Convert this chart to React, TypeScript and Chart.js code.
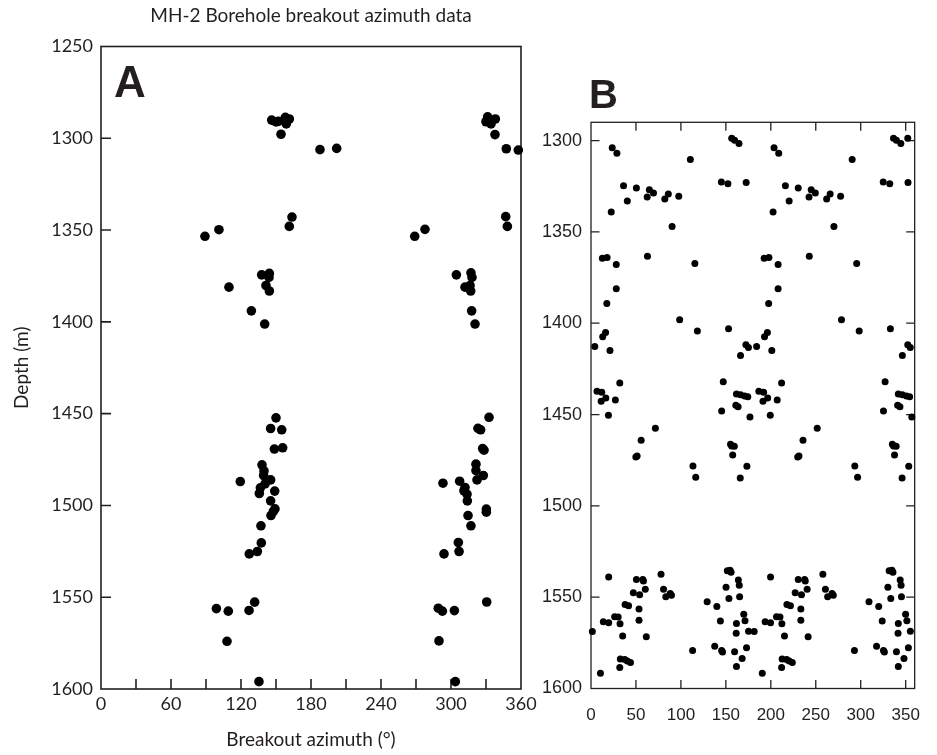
import React, { useEffect, useRef } from 'react';
import { Chart, registerables } from 'chart.js';

Chart.register(...registerables);

// ---------------- Panel A data (breakout azimuth °, depth m) ----------------
const aSet1Azimuth = [146.3, 150, 152, 158, 161.4, 158.8, 154.3, 187.7, 202, 163.7, 161.4, 101.1, 89.1, 137.7, 144.3, 144, 109.7, 141.4, 144.3, 128.9, 140.3, 150, 145.4, 154.9, 148.6, 155.7, 138, 139.7, 139.4, 119.4, 145.4, 140.6, 136.6, 135.7, 148.9, 145.4, 149.1, 147.7, 145.7, 137.1, 137.4, 134, 127.1, 131.7, 98.9, 109.1, 126.9, 108, 135.4];
const aSet1Depth = [1290.1, 1291.1, 1290.8, 1288.6, 1289.5, 1292.2, 1297.8, 1306.2, 1305.5, 1342.9, 1348, 1349.8, 1353.4, 1374.4, 1373.6, 1375.8, 1381.1, 1380.2, 1383.2, 1394, 1401.2, 1452.3, 1458.1, 1458.8, 1469.3, 1468.6, 1477.9, 1481.2, 1483.7, 1487, 1486.1, 1488.3, 1490.4, 1493.5, 1492.2, 1497.5, 1501.9, 1503.3, 1505.5, 1511.1, 1520.4, 1525.1, 1526.4, 1552.7, 1556.2, 1557.6, 1557.2, 1574, 1596];
const aSet2Azimuth = [331.4, 338, 330, 334.3, 332.9, 337.7, 347.4, 357.7, 346.9, 348.3, 277.7, 268.9, 304.6, 317.1, 318, 312, 316.3, 316.9, 317.7, 320.6, 332.6, 323.1, 325.4, 327.1, 328.3, 321.4, 321.4, 322.3, 327.7, 293.1, 307.4, 312, 311.1, 313.7, 314, 330.3, 330.3, 314.6, 317.1, 306.3, 306.9, 294, 330.6, 289.1, 292.6, 302.9, 289.7, 303.7];
const aSet2Depth = [1288.3, 1289.5, 1291, 1292.2, 1290.4, 1298, 1305.7, 1306.4, 1342.7, 1348, 1349.6, 1353.4, 1374.4, 1373.3, 1375.8, 1381.1, 1380.2, 1383.2, 1394, 1401.2, 1452, 1458, 1458.8, 1469, 1469.9, 1477.5, 1481, 1486.1, 1483.7, 1487.9, 1486.8, 1490.2, 1492, 1493.9, 1497.5, 1502, 1503.7, 1505.5, 1511.1, 1520.2, 1525.1, 1526.4, 1552.6, 1556, 1557.6, 1557.3, 1573.8, 1596];

const aAzimuthTicks = [0, 30, 60, 90, 120, 150, 180, 210, 240, 270, 300, 330, 360];
const aAzimuthLabels = ['0', '', '60', '', '120', '', '180', '', '240', '', '300', '', '360'];
const aDepthTicks = [1250, 1300, 1350, 1400, 1450, 1500, 1550, 1600];

// ---------------- Panel B data ----------------
const bSet1Azimuth = [23.6, 28.8, 156.5, 159.7, 164.6, 110.5, 145, 152.3, 172.6, 36.2, 50.5, 64.9, 69.5, 62.5, 40.4, 86, 82.1, 97.6, 22.5, 90.2, 12.6, 17.9, 28.1, 62.8, 115.5, 28.1, 17.6, 98.6, 118.3, 153, 16.2, 13, 4.2, 21.1, 172.3, 175.1, 166.3, 32, 147.1, 6.7, 12, 16.5, 11.3, 27.1, 19.4, 71.6, 55.8, 51.3, 49.9, 145.3, 161.8, 166.3, 170.9, 174.4, 161.1, 163.6, 176.8, 155.2, 156.5, 159.4, 157.6, 113.4, 116.5, 166, 173.4, 1.5, 10.5, 13.7, 19.7, 19.7, 26.3, 30.2, 32.3, 35.2, 32.6, 32, 37.6, 40.4, 43.9, 37.9, 41.8, 47.1, 50.5, 54.1, 53.4, 53.4, 57.6, 58.3, 60.4, 61.5, 77.9, 80.7, 83.2, 88.1, 89.5, 113, 129.2, 137.6, 140, 143.9, 145.3, 146.3, 150.2, 151.6, 154.7, 155.8, 153.4, 159.7, 161.8, 161.5, 161.8, 163.9, 164.9, 165.3, 168.1, 169.9, 171.3, 173, 175.2];
const bSet1Depth = [1304, 1307, 1298.7, 1299.8, 1301.6, 1310.4, 1322.7, 1323.6, 1323, 1324.7, 1326, 1326.9, 1328.7, 1330.9, 1333.1, 1329.2, 1332, 1330.5, 1339.1, 1347.1, 1364.5, 1364, 1367.8, 1363.4, 1367.3, 1381.1, 1389.2, 1398.1, 1404.3, 1403.1, 1405.1, 1407.4, 1412.8, 1414.9, 1411.8, 1413.3, 1417.7, 1432.7, 1432.1, 1437.2, 1437.8, 1440.9, 1442.7, 1442.1, 1450.4, 1457.5, 1464.1, 1472.7, 1473.2, 1448, 1438.7, 1439.2, 1439.8, 1440.2, 1444.9, 1445.8, 1451.3, 1466.3, 1467.2, 1467.4, 1472.1, 1478.2, 1484.4, 1484.7, 1478.3, 1568.8, 1591.6, 1563.5, 1564, 1539, 1560.7, 1560.9, 1564.6, 1571.3, 1583.8, 1588.5, 1584.1, 1585, 1585.8, 1554, 1554.7, 1547.6, 1540.3, 1548.7, 1556.5, 1562.7, 1540.3, 1541.2, 1545.6, 1571.7, 1537.4, 1545.7, 1549.8, 1548, 1548.9, 1579.2, 1552.5, 1576.8, 1555.1, 1563.1, 1579.2, 1580, 1544.6, 1535.5, 1535.2, 1536.4, 1550.7, 1579.9, 1588, 1569.7, 1564.4, 1540.6, 1543.5, 1549.8, 1583.6, 1559.3, 1562.9, 1577.7, 1568.6];
const bSet2Azimuth = [203.6, 208.8, 336.5, 339.7, 344.6, 290.5, 325, 332.3, 352.6, 216.2, 230.5, 244.9, 249.5, 242.5, 220.4, 266, 262.1, 277.6, 202.5, 270.2, 192.6, 197.9, 208.1, 242.8, 295.5, 208.1, 197.6, 278.6, 298.3, 333, 196.2, 193, 184.2, 201.1, 352.3, 355.1, 346.3, 212, 327.1, 186.7, 192, 196.5, 191.3, 207.1, 199.4, 251.6, 235.8, 231.3, 229.9, 325.3, 341.8, 346.3, 350.9, 354.4, 341.1, 343.6, 356.8, 335.2, 336.5, 339.4, 337.6, 293.4, 296.5, 346, 353.4, 181.5, 190.5, 193.7, 199.7, 199.7, 206.3, 210.2, 212.3, 215.2, 212.6, 212, 217.6, 220.4, 223.9, 217.9, 221.8, 227.1, 230.5, 234.1, 233.4, 233.4, 237.6, 238.3, 240.4, 241.5, 257.9, 260.7, 263.2, 268.1, 269.5, 293, 309.2, 317.6, 320, 323.9, 325.3, 326.3, 330.2, 331.6, 334.7, 335.8, 333.4, 339.7, 341.8, 341.5, 341.8, 343.9, 344.9, 345.3, 348.1, 349.9, 351.3, 353, 355.2, 352.3];
const bSet2Depth = [1304, 1307, 1298.7, 1299.8, 1301.6, 1310.4, 1322.7, 1323.6, 1323, 1324.7, 1326, 1326.9, 1328.7, 1330.9, 1333.1, 1329.2, 1332, 1330.5, 1339.1, 1347.1, 1364.5, 1364, 1367.8, 1363.4, 1367.3, 1381.1, 1389.2, 1398.1, 1404.3, 1403.1, 1405.1, 1407.4, 1412.8, 1414.9, 1411.8, 1413.3, 1417.7, 1432.7, 1432.1, 1437.2, 1437.8, 1440.9, 1442.7, 1442.1, 1450.4, 1457.5, 1464.1, 1472.7, 1473.2, 1448, 1438.7, 1439.2, 1439.8, 1440.2, 1444.9, 1445.8, 1451.3, 1466.3, 1467.2, 1467.4, 1472.1, 1478.2, 1484.4, 1484.7, 1478.3, 1568.8, 1591.6, 1563.5, 1564, 1539, 1560.7, 1560.9, 1564.6, 1571.3, 1583.8, 1588.5, 1584.1, 1585, 1585.8, 1554, 1554.7, 1547.6, 1540.3, 1548.7, 1556.5, 1562.7, 1540.3, 1541.2, 1545.6, 1571.7, 1537.4, 1545.7, 1549.8, 1548, 1548.9, 1579.2, 1552.5, 1576.8, 1555.1, 1563.1, 1579.2, 1580, 1544.6, 1535.5, 1535.2, 1536.4, 1550.7, 1579.9, 1588, 1569.7, 1564.4, 1540.6, 1543.5, 1549.8, 1583.6, 1559.3, 1562.9, 1577.7, 1568.6, 1298.7];

const bAzimuthTicks = [0, 50, 100, 150, 200, 250, 300, 350];
const bDepthTicks = [1300, 1350, 1400, 1450, 1500, 1550, 1600];

const chartTitle = 'MH-2 Borehole breakout azimuth data';
const xAxisTitle = 'Breakout azimuth (°)';
const yAxisTitle = 'Depth (m)';

const INK = '#231f20';
const FONT_A = 'Lato, "Open Sans", sans-serif';
const FONT_B = '"Liberation Sans", Arial, Helvetica, sans-serif';

const toPoints = (xs: number[], ys: number[]) => xs.map((x, i) => ({ x, y: ys[i] }));

type FrameCfg = {
  lineWidth: number;
  tickLen: number;
  xSides: string[];
  ySides: string[];
  texts: { text: string; x: number | 'center'; y: number; font: string; rotate?: boolean; align?: CanvasTextAlign; baseline?: CanvasTextBaseline }[];
};

function framePlugin(cfg: FrameCfg) {
  return {
    id: 'frameTicks',
    beforeDatasetsDraw(chart: any) {
      const { ctx, chartArea: a, scales } = chart;
      ctx.save();
      ctx.strokeStyle = INK;
      ctx.lineWidth = cfg.lineWidth;
      ctx.strokeRect(a.left, a.top, a.right - a.left, a.bottom - a.top);
      ctx.beginPath();
      const xs = scales.x;
      const ys = scales.y;
      xs.ticks.forEach((t: any) => {
        const p = xs.getPixelForValue(t.value);
        if (Math.abs(p - a.left) < 1 || Math.abs(p - a.right) < 1) return;
        if (cfg.xSides.includes('bottom')) { ctx.moveTo(p, a.bottom); ctx.lineTo(p, a.bottom - cfg.tickLen); }
        if (cfg.xSides.includes('top')) { ctx.moveTo(p, a.top); ctx.lineTo(p, a.top + cfg.tickLen); }
      });
      ys.ticks.forEach((t: any) => {
        const p = ys.getPixelForValue(t.value);
        if (Math.abs(p - a.top) < 1 || Math.abs(p - a.bottom) < 1) return;
        if (cfg.ySides.includes('left')) { ctx.moveTo(a.left, p); ctx.lineTo(a.left + cfg.tickLen, p); }
        if (cfg.ySides.includes('right')) { ctx.moveTo(a.right, p); ctx.lineTo(a.right - cfg.tickLen, p); }
      });
      ctx.stroke();
      ctx.restore();
    },
    afterDraw(chart: any) {
      const { ctx, chartArea: a } = chart;
      ctx.save();
      ctx.fillStyle = INK;
      cfg.texts.forEach((t) => {
        ctx.save();
        ctx.font = t.font;
        ctx.textAlign = t.align || 'center';
        ctx.textBaseline = t.baseline || 'middle';
        const x = t.x === 'center' ? (a.left + a.right) / 2 : t.x;
        const y = t.rotate ? (a.top + a.bottom) / 2 : t.y;
        ctx.translate(x, y);
        if (t.rotate) ctx.rotate(-Math.PI / 2);
        ctx.fillText(t.text, 0, 0);
        ctx.restore();
      });
      ctx.restore();
    },
  };
}

export default function App() {
  const refA = useRef<HTMLCanvasElement | null>(null);
  const refB = useRef<HTMLCanvasElement | null>(null);

  useEffect(() => {
    if (!refA.current || !refB.current) return;

    const chartA = new Chart(refA.current, {
      type: 'scatter',
      data: {
        datasets: [
          { data: toPoints(aSet1Azimuth, aSet1Depth), pointRadius: 4.8, pointBackgroundColor: '#000', pointBorderWidth: 0, clip: false } as any,
          { data: toPoints(aSet2Azimuth, aSet2Depth), pointRadius: 4.8, pointBackgroundColor: '#000', pointBorderWidth: 0, clip: false } as any,
        ],
      },
      options: {
        responsive: false,
        animation: false,
        events: [],
        layout: { padding: { left: 0, right: 39, top: 46.5, bottom: 0 } },
        plugins: { legend: { display: false }, tooltip: { enabled: false }, title: { display: false } },
        scales: {
          x: {
            type: 'linear', position: 'bottom', min: 0, max: 360,
            grid: { display: false, drawTicks: false }, border: { display: false },
            afterBuildTicks: (s: any) => { s.ticks = aAzimuthTicks.map((v) => ({ value: v })); },
            afterFit: (s: any) => { s.height = 66; },
            ticks: { autoSkip: false, maxRotation: 0, padding: 4, color: INK, font: { family: FONT_A, size: 18 }, callback: (_v: any, i: number) => aAzimuthLabels[i] },
          },
          y: {
            type: 'linear', position: 'left', min: 1250, max: 1600, reverse: true,
            grid: { display: false, drawTicks: false }, border: { display: false },
            afterBuildTicks: (s: any) => { s.ticks = aDepthTicks.map((v) => ({ value: v })); },
            afterFit: (s: any) => { s.width = 101; },
            ticks: { autoSkip: false, padding: 8, color: INK, font: { family: FONT_A, size: 18 }, callback: (v: any) => String(v) },
          },
        },
      },
      plugins: [framePlugin({
        lineWidth: 1.6, tickLen: 10, xSides: ['bottom'], ySides: ['left'],
        texts: [
          { text: chartTitle, x: 'center', y: 16, font: `19px ${FONT_A}` },
          { text: xAxisTitle, x: 'center', y: 740, font: `19px ${FONT_A}` },
          { text: yAxisTitle, x: 22, y: 368, font: `19px ${FONT_A}`, rotate: true },
          { text: 'A', x: 114, y: 96.5, font: `bold 44px ${FONT_B}`, align: 'left', baseline: 'alphabetic' },
        ],
      }) as any],
    } as any);

    const chartB = new Chart(refB.current, {
      type: 'scatter',
      data: {
        datasets: [
          { data: toPoints(bSet1Azimuth, bSet1Depth), pointRadius: 3.5, pointBackgroundColor: '#000', pointBorderWidth: 0, clip: false } as any,
          { data: toPoints(bSet2Azimuth, bSet2Depth), pointRadius: 3.5, pointBackgroundColor: '#000', pointBorderWidth: 0, clip: false } as any,
        ],
      },
      options: {
        responsive: false,
        animation: false,
        events: [],
        layout: { padding: { left: 0, right: 5, top: 122.3, bottom: 0 } },
        plugins: { legend: { display: false }, tooltip: { enabled: false }, title: { display: false } },
        scales: {
          x: {
            type: 'linear', position: 'bottom', min: 0, max: 360,
            grid: { display: false, drawTicks: false }, border: { display: false },
            afterBuildTicks: (s: any) => { s.ticks = bAzimuthTicks.map((v) => ({ value: v })); },
            afterFit: (s: any) => { s.height = 66.5; },
            ticks: { autoSkip: false, maxRotation: 0, padding: 17, color: INK, font: { family: FONT_B, size: 17 }, callback: (v: any) => String(v) },
          },
          y: {
            type: 'linear', position: 'left', min: 1290, max: 1600, reverse: true,
            grid: { display: false, drawTicks: false }, border: { display: false },
            afterBuildTicks: (s: any) => { s.ticks = bDepthTicks.map((v) => ({ value: v })); },
            afterFit: (s: any) => { s.width = 61; },
            ticks: { autoSkip: false, padding: 9, color: INK, font: { family: FONT_B, size: 18 }, callback: (v: any) => String(v) },
          },
        },
      },
      plugins: [framePlugin({
        lineWidth: 1.3, tickLen: 8.5, xSides: ['bottom', 'top'], ySides: ['left', 'right'],
        texts: [
          { text: 'B', x: 59, y: 108.3, font: `bold 40px ${FONT_B}`, align: 'left', baseline: 'alphabetic' },
        ],
      }) as any],
    } as any);

    return () => {
      chartA.destroy();
      chartB.destroy();
    };
  }, []);

  return (
    <div style={{ position: 'absolute', left: 0, top: 0, width: 937, height: 755, background: '#fff', overflow: 'hidden' }}>
      <canvas ref={refA} width={560} height={755} style={{ position: 'absolute', left: 0, top: 0, width: 560, height: 755 }} />
      <canvas ref={refB} width={407} height={755} style={{ position: 'absolute', left: 530, top: 0, width: 407, height: 755 }} />
    </div>
  );
}
